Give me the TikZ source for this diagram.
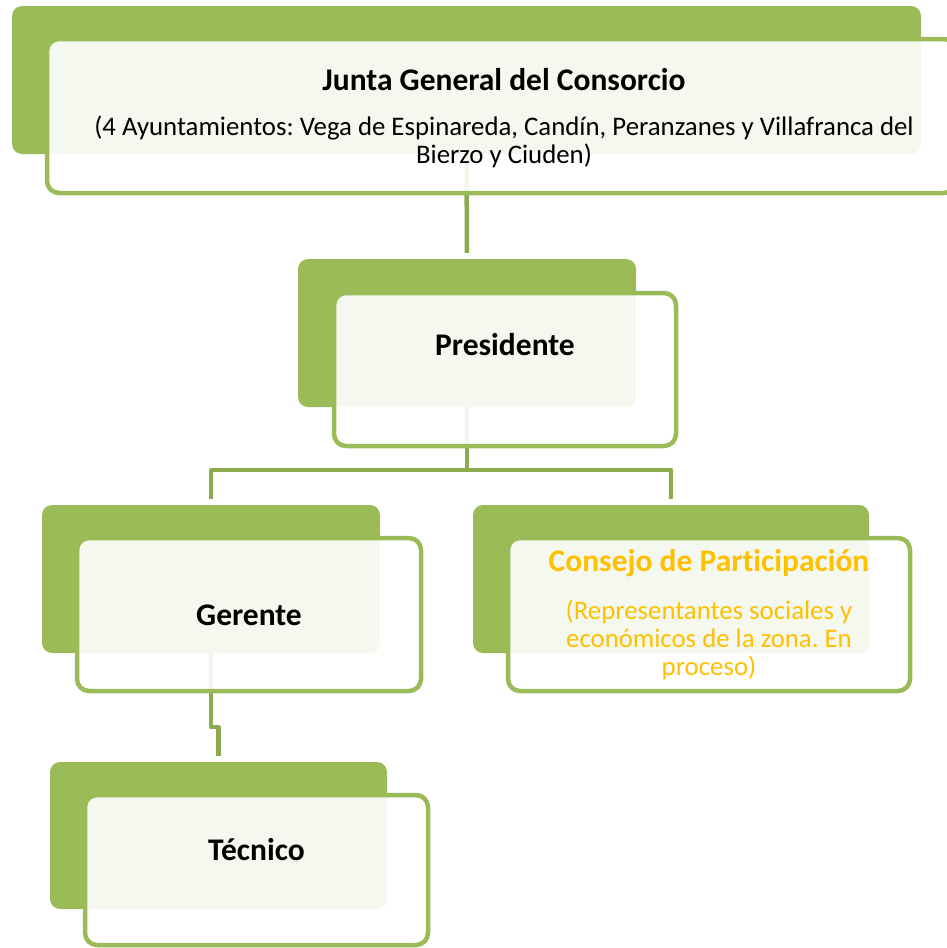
\documentclass[tikz,border=0pt]{standalone}
\usepackage{fontspec}
\setmainfont{Carlito}[Ligatures=NoCommon]
\usetikzlibrary{positioning}
\definecolor{boxgreen}{HTML}{9BBB59}
\definecolor{linkgreen}{HTML}{8CAA4F}
\definecolor{gold}{HTML}{FFC000}
\frenchspacing

\begin{document}
\begin{tikzpicture}[x=1pt, y=-1pt, line join=round]
    \tikzstyle{back box}=[rectangle, rounded corners=10pt, fill=boxgreen, inner sep=0pt]
    \tikzstyle{front box}=[rectangle, rounded corners=12pt, fill=white, fill opacity=0.9, draw=boxgreen, draw opacity=1, line width=4.5pt, inner sep=0pt]
    \tikzstyle{link}=[draw=linkgreen, line width=4.5pt]
    \tikzstyle{head}=[font=\fontsize{31.5}{34}\selectfont\bfseries]
    \tikzstyle{note}=[font=\fontsize{26.8}{28}\selectfont, align=center]

    \useasboundingbox (0,0) rectangle (947,948);
    \clip (0,0) rectangle (947,948);

    % Draw the green boxes at the back
    \node[back box, minimum width=909pt, minimum height=148pt] (junta-b) at (466.5,80) {};
    \node[back box, minimum width=338pt, minimum height=148pt] (pres-b) at (467,333) {};
    \node[back box, minimum width=338pt, minimum height=148pt] (ger-b) at (211,579) {};
    \node[back box, minimum width=396pt, minimum height=148pt] (cons-b) at (671,579) {};
    \node[back box, minimum width=337pt, minimum height=147pt] (tec-b) at (218.5,835.5) {};

    % Connect the levels
    \coordinate (fork) at (467,470);
    \draw[link, shorten >=6pt] (junta-b.south) -- (pres-b.north);
    \draw[link] (pres-b.south) -- (fork);
    \draw[link, shorten <=6pt, shorten >=6pt] (ger-b.north) |- (fork) -| (cons-b.north);
    \draw[link, shorten >=6pt] (ger-b.south) -- ++(0,74) -| (tec-b.north);

    % Draw the outlined boxes in front
    \node[front box, minimum width=909pt, minimum height=154pt] (junta-f) at (501.5,116) {};
    \node[front box, minimum width=342pt, minimum height=153pt] (pres-f) at (505,369.5) {};
    \node[front box, minimum width=344pt, minimum height=153pt] (ger-f) at (249,614.5) {};
    \node[front box, minimum width=402pt, minimum height=153pt] (cons-f) at (709,614.5) {};
    \node[front box, minimum width=343pt, minimum height=150pt] (tec-f) at (256.5,870) {};

    % Texts
    \node[head] (junta-t) at (504,80) {Junta General del Consorcio};
    \node[note] (junta-s) at (504,141.5) {(4 Ayuntamientos: Vega de Espinareda, Candín, Peranzanes y Villafranca del\\Bierzo y Ciuden)};
    \node[head] (pres-t) at (505,345) {Presidente};
    \node[head] (ger-t) at (249,615) {Gerente};
    \node[head, text=gold] (cons-t) at (709,563) {Consejo de Participación};
    \node[note, text=gold] (cons-s) at (709,640) {(Representantes sociales y\\económicos de la zona. En\\proceso)};
    \node[head] (tec-t) at (256.5,850) {Técnico};
\end{tikzpicture}
\end{document}
